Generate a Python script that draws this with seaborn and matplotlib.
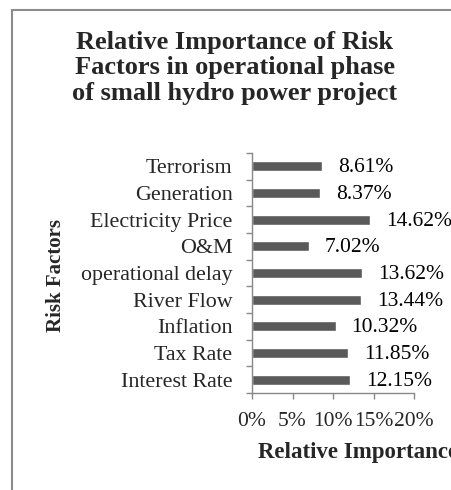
import numpy as np
import pandas as pd
import matplotlib
matplotlib.use("Agg")
import matplotlib.pyplot as plt
import matplotlib.lines as mlines
import seaborn as sns

# data, top bar first
factors = ["Terrorism", "Generation", "Electricity Price", "O&M", "operational delay",
           "River Flow", "Inflation", "Tax Rate", "Interest Rate"]
importance = [8.61, 8.37, 14.62, 7.02, 13.62, 13.44, 10.32, 11.85, 12.15]
x_ticks = [0, 5, 10, 15, 20]
x_tick_labels = ["0%", "5%", "10%", "15%", "20%"]

df = pd.DataFrame({"factor": factors, "importance": importance})

sns.set_style("white")
plt.rcParams["font.family"] = ["Liberation Serif", "DejaVu Serif"]

fig = plt.figure(figsize=(4.52, 4.90), dpi=100)
ax = fig.add_axes([252 / 452, 97 / 490, 162 / 452, 240 / 490])

sns.barplot(data=df, x="importance", y="factor", order=factors, orient="h",
            color="#5a5a5a", saturation=1, width=0.38, ax=ax)

for i, v in enumerate(importance):
    ax.annotate(f"{v:.2f}%", (v, i), xytext=(11.5, -1), textcoords="offset points",
                ha="left", va="center", fontsize=15.5, color="black")

ax.set_xlim(0, 20)
ax.set_ylim(len(factors) - 0.5, -0.5)
ax.set_xticks(x_ticks)
ax.set_xticklabels(x_tick_labels, fontsize=15.5)
ax.set_yticks(range(len(factors)))
ax.set_yticklabels(factors, fontsize=15.8)
ax.set_yticks(np.arange(-0.5, len(factors), 1), minor=True)
ax.tick_params(axis="y", which="major", length=0, pad=14)
ax.tick_params(axis="y", which="minor", length=4, width=1, color="#888888", direction="out", left=True)
ax.tick_params(axis="x", which="major", length=4, width=1, color="#888888", direction="out", pad=9.5, bottom=True)
ax.set_xlabel("")
ax.set_ylabel("")
for side in ["top", "right"]:
    ax.spines[side].set_visible(False)
for side in ["left", "bottom"]:
    ax.spines[side].set_color("#888888")
    ax.spines[side].set_linewidth(1)

fig.text(0.52, 1 - 31 / 490, "Relative Importance of Risk\nFactors in operational phase\nof small hydro power project",
         ha="center", va="top", fontsize=19, fontweight="bold", linespacing=1.13)
fig.text(56 / 452, 1 - 276 / 490, "Risk Factors", rotation=90, ha="center", va="center",
         fontsize=15, fontweight="bold")
fig.text(258 / 452, 1 - 452 / 490, "Relative Importance", ha="left", va="center",
         fontsize=16.5, fontweight="bold")

# outer chart frame (right and bottom edges fall outside the image)
fig.add_artist(mlines.Line2D([12 / 452, 12 / 452], [0, 1 - 10 / 490], transform=fig.transFigure,
                             color="#8c8c8c", lw=1.5))
fig.add_artist(mlines.Line2D([12 / 452, 1], [1 - 10 / 490, 1 - 10 / 490], transform=fig.transFigure,
                             color="#8c8c8c", lw=1.5))

fig.savefig("out.png", dpi=100)
